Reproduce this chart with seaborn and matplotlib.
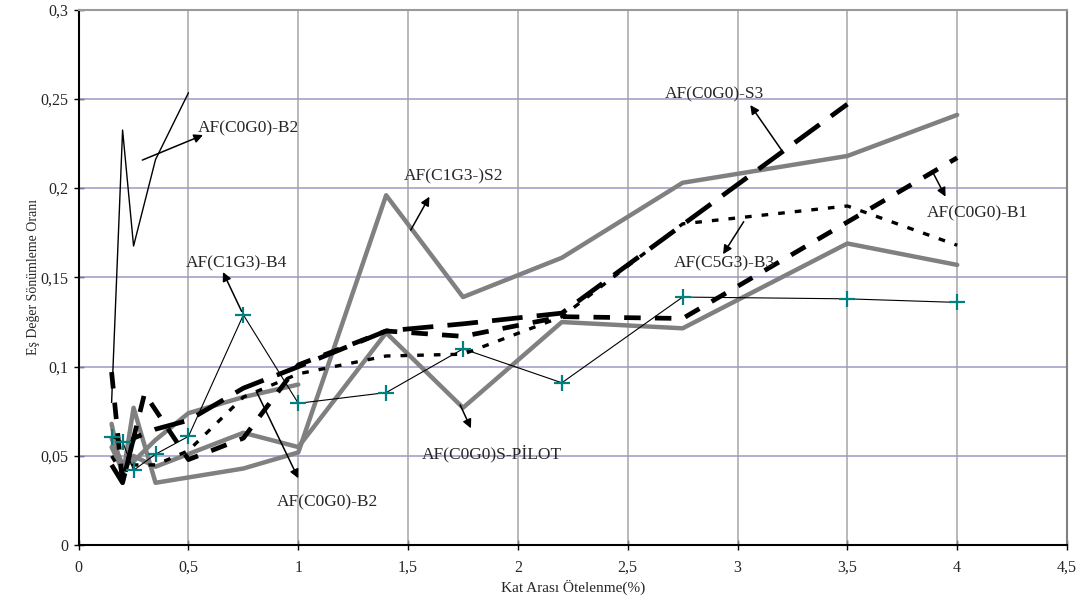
import matplotlib
matplotlib.use("Agg")
import matplotlib.pyplot as plt
from matplotlib.ticker import FixedLocator, FixedFormatter
import seaborn as sns

# Drift ratio (%) vs. equivalent damping ratio for the tested frames
thin_b2_x = [0.15, 0.2, 0.25, 0.35, 0.5]
thin_b2_y = [0.08, 0.2325, 0.1676, 0.216, 0.2534]

b4_x = [0.15, 0.2, 0.25, 0.35, 0.5, 0.75, 1.0, 1.4, 1.75, 2.2, 2.75, 3.5, 4.0]
b4_y = [0.0605, 0.058, 0.042, 0.051, 0.061, 0.129, 0.0795, 0.0855, 0.11, 0.091, 0.139, 0.138, 0.136]

s2_x = [0.15, 0.2, 0.25, 0.35, 0.5, 0.75, 1.0, 1.4, 1.75, 2.2, 2.75, 3.5, 4.0]
s2_y = [0.068, 0.038, 0.077, 0.035, 0.038, 0.043, 0.052, 0.196, 0.139, 0.161, 0.203, 0.218, 0.241]

pilot_x = [0.15, 0.2, 0.25, 0.35, 0.75, 1.0, 1.4, 1.75, 2.2, 2.75, 3.5, 4.0]
pilot_y = [0.055, 0.042, 0.05, 0.044, 0.063, 0.055, 0.119, 0.077, 0.125, 0.1215, 0.169, 0.157]

gray_b2_x = [0.15, 0.2, 0.25, 0.35, 0.5, 0.75, 1.0]
gray_b2_y = [0.06, 0.045, 0.047, 0.059, 0.074, 0.083, 0.09]

b1_x = [0.15, 0.2, 0.3, 0.5, 0.75, 1.0, 1.4, 1.75, 2.2, 2.75, 3.5, 4.0]
b1_y = [0.097, 0.035, 0.085, 0.048, 0.06, 0.101, 0.12, 0.117, 0.128, 0.127, 0.181, 0.217]

s3_x = [0.15, 0.2, 0.25, 0.35, 0.5, 0.75, 1.0, 1.4, 1.75, 2.2, 3.5]
s3_y = [0.045, 0.035, 0.06, 0.065, 0.07, 0.088, 0.1, 0.12, 0.124, 0.13, 0.247]

b3_x = [0.15, 0.2, 0.25, 0.35, 0.5, 0.75, 1.0, 1.4, 1.75, 2.2, 2.75, 3.5, 4.0]
b3_y = [0.05, 0.04, 0.045, 0.045, 0.053, 0.083, 0.096, 0.106, 0.107, 0.128, 0.18, 0.19, 0.168]

x_ticks = [0, 0.5, 1, 1.5, 2, 2.5, 3, 3.5, 4, 4.5]
x_tick_labels = ["0", "0,5", "1", "1,5", "2", "2,5", "3", "3,5", "4", "4,5"]
y_ticks = [0, 0.05, 0.1, 0.15, 0.2, 0.25, 0.3]
y_tick_labels = ["0", "0,05", "0,1", "0,15", "0,2", "0,25", "0,3"]

# label text, arrow tail, arrow head, text anchor (left, centre)
labels = [
    ("AF(C0G0)-B2", (0.29, 0.2157), (0.566, 0.2297), (0.543, 0.2337)),
    ("AF(C1G3)-B4", (0.742, 0.131), (0.657, 0.153), (0.486, 0.158)),
    ("AF(C1G3-)S2", (1.512, 0.1765), (1.597, 0.1952), (1.479, 0.2064)),
    ("AF(C0G0)S-PİLOT", (1.737, 0.0786), (1.786, 0.0655), (1.563, 0.0515)),
    ("AF(C5G3)-B3", (3.028, 0.1812), (2.934, 0.163), (2.709, 0.158)),
    ("AF(C0G0)-S3", (3.203, 0.2208), (3.058, 0.2465), (2.671, 0.2524)),
    ("AF(C0G0)-B1", (3.893, 0.2079), (3.947, 0.1952), (3.863, 0.1859)),
    ("AF(C0G0)-B2", (0.81, 0.086), (1.0, 0.0375), (0.903, 0.0242)),
]

sns.set_style("white")
plt.rcParams["font.family"] = ["Liberation Serif", "DejaVu Serif"]

fig = plt.figure(figsize=(10.88, 6.03), dpi=100)
ax = fig.add_axes([0.0723, 0.0957, 0.9084, 0.8885])

gray = "#808080"
common = dict(ax=ax, sort=False, estimator=None, legend=False)

sns.lineplot(x=s2_x, y=s2_y, color=gray, lw=3.2, zorder=3, **common)
sns.lineplot(x=pilot_x, y=pilot_y, color=gray, lw=3.2, zorder=3, **common)
sns.lineplot(x=gray_b2_x, y=gray_b2_y, color=gray, lw=3.2, zorder=3, **common)
sns.lineplot(x=s3_x, y=s3_y, color="black", lw=3.4, linestyle=(0, (6.5, 3.0)), zorder=4, **common)
sns.lineplot(x=b1_x, y=b1_y, color="black", lw=3.4, linestyle=(0, (3.5, 3.0)), zorder=4, **common)
sns.lineplot(x=b3_x, y=b3_y, color="black", lw=2.4, linestyle=(0, (2.0, 3.0)), zorder=4, **common)
sns.lineplot(x=thin_b2_x, y=thin_b2_y, color="black", lw=1.0, zorder=5, **common)
sns.lineplot(x=b4_x, y=b4_y, color="black", lw=0.8, marker="+", markersize=12,
             markeredgewidth=1.6, markeredgecolor="#008080", zorder=6, **common)

for text, tail, head, pos in labels:
    ax.annotate("", xy=head, xytext=tail,
                arrowprops=dict(arrowstyle="-|>", color="black", lw=1.1,
                                mutation_scale=13, shrinkA=0, shrinkB=0),
                zorder=7)
    ax.text(pos[0], pos[1], text, ha="left", va="center", fontsize=12.5, zorder=8)

ax.set_xlim(0, 4.5)
ax.set_ylim(0, 0.3)
ax.xaxis.set_major_locator(FixedLocator(x_ticks))
ax.xaxis.set_major_formatter(FixedFormatter(x_tick_labels))
ax.yaxis.set_major_locator(FixedLocator(y_ticks))
ax.yaxis.set_major_formatter(FixedFormatter(y_tick_labels))

ax.grid(False)
for xv in x_ticks[1:-1]:
    ax.axvline(xv, color="#a6a6a6", lw=1.1, zorder=1)
for yv in y_ticks[1:-1]:
    ax.axhline(yv, color="#9a9ac4", lw=1.1, zorder=1)

ax.spines["left"].set_color("black")
ax.spines["bottom"].set_color("black")
ax.spines["left"].set_linewidth(1.5)
ax.spines["bottom"].set_linewidth(1.5)
ax.spines["top"].set_color("#9a9a9a")
ax.spines["right"].set_color("#808080")
ax.spines["top"].set_linewidth(1.5)
ax.spines["right"].set_linewidth(1.5)

ax.tick_params(axis="both", direction="inout", length=7, width=1.0, color="black",
               labelsize=11.5, bottom=True, left=True)
ax.tick_params(axis="x", pad=7)
ax.tick_params(axis="y", pad=4)

ax.set_xlabel("Kat Arası Ötelenme(%)", fontsize=11, labelpad=3)
ax.set_ylabel("Eş Değer Sönümleme Oranı", fontsize=10, labelpad=0)

fig.savefig("out.png", dpi=100, facecolor="white")
